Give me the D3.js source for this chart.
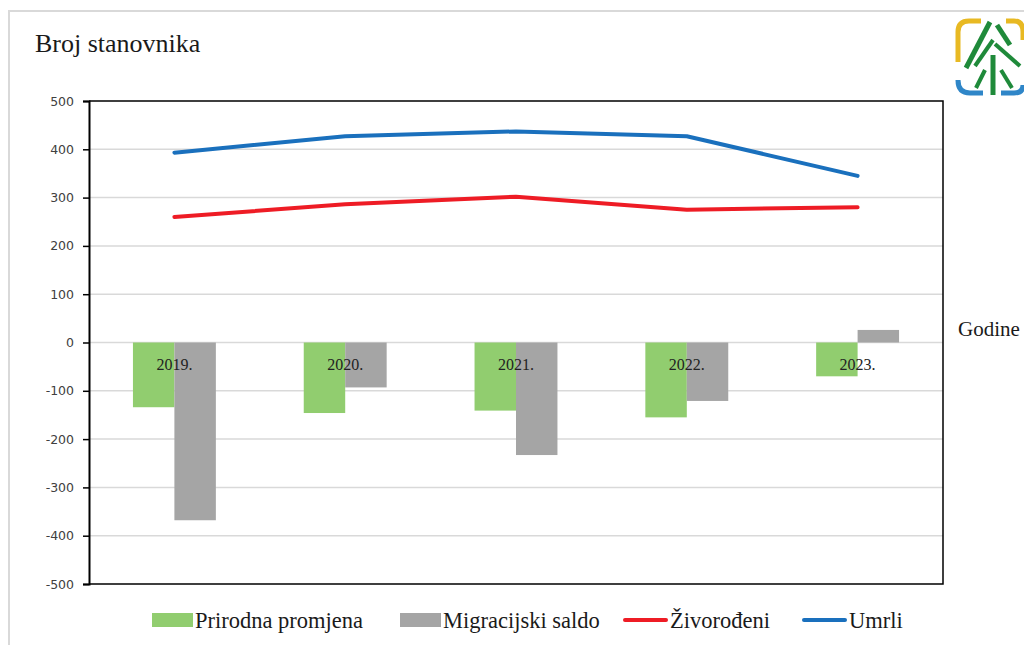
<!DOCTYPE html>
<html>
<head>
<meta charset="utf-8">
<script src="https://cdn.jsdelivr.net/npm/d3@7"></script>
<style>
  html, body { margin: 0; padding: 0; background: #fff; }
  svg { display: block; }
  .serif { font-family: 'Liberation Serif', 'DejaVu Serif', serif; }
  .sans { font-family: 'DejaVu Sans', sans-serif; }
</style>
</head>
<body>
<svg id="chart" width="1024" height="645"></svg>
<script>
// ---- data ----
const years = ["2019.", "2020.", "2021.", "2022.", "2023."];
const prirodnaPromjena = [-134, -146, -141, -155, -70];
const migracijskiSaldo = [-368, -93, -233, -121, 26];
const zivorodeni = [260, 286, 302, 275, 280];
const umrli = [393, 427, 437, 427, 345];
const yTicks = [-500, -400, -300, -200, -100, 0, 100, 200, 300, 400, 500];
const seriesNames = ["Prirodna promjena", "Migracijski saldo", "Živorođeni", "Umrli"];

// ---- layout ----
const svg = d3.select("#chart");
const L = 89, R = 943, T = 101, B = 584;
const colors = { green: "#91cd6f", gray: "#a5a5a5", red: "#ee1c25", blue: "#1a70bd" };

// outer frame
svg.append("rect").attr("x", 9).attr("y", 11).attr("width", 1100).attr("height", 700)
  .attr("fill", "none").attr("stroke", "#d9d9d9").attr("stroke-width", 2);

// title
svg.append("text").attr("class", "serif").attr("x", 35).attr("y", 52)
  .style("font-size", "26px").attr("fill", "#1a1a1a")
  .text("Broj stanovnika");

const y = d3.scaleLinear().domain([-500, 500]).range([B, T]);
const x = d3.scaleBand().domain(years).range([L, R]).padding(0);
const xs = d3.scaleBand().domain(["p", "m"]).range([0, x.bandwidth()]).paddingInner(0).paddingOuter(1.06);

// gridlines
svg.append("g").selectAll("line").data(yTicks.filter(t => t !== 500 && t !== -500)).join("line")
  .attr("x1", L).attr("x2", R).attr("y1", d => y(d)).attr("y2", d => y(d))
  .attr("stroke", "#d9d9d9").attr("stroke-width", 1.5);

// bars
const g = svg.append("g");
g.selectAll("rect.p").data(years).join("rect").attr("class", "p")
  .attr("x", d => x(d) + xs("p")).attr("width", xs.bandwidth())
  .attr("y", (d, i) => Math.min(y(0), y(prirodnaPromjena[i])))
  .attr("height", (d, i) => Math.abs(y(prirodnaPromjena[i]) - y(0)))
  .attr("fill", colors.green);
g.selectAll("rect.m").data(years).join("rect").attr("class", "m")
  .attr("x", d => x(d) + xs("m")).attr("width", xs.bandwidth())
  .attr("y", (d, i) => Math.min(y(0), y(migracijskiSaldo[i])))
  .attr("height", (d, i) => Math.abs(y(migracijskiSaldo[i]) - y(0)))
  .attr("fill", colors.gray);

// lines
const cx = d => x(d) + x.bandwidth() / 2;
const line = d3.line().x(d => cx(d[0])).y(d => y(d[1]));
svg.append("path").datum(years.map((d, i) => [d, zivorodeni[i]]))
  .attr("d", line).attr("fill", "none").attr("stroke", colors.red).attr("stroke-width", 4)
  .attr("stroke-linejoin", "round").attr("stroke-linecap", "round");
svg.append("path").datum(years.map((d, i) => [d, umrli[i]]))
  .attr("d", line).attr("fill", "none").attr("stroke", colors.blue).attr("stroke-width", 4)
  .attr("stroke-linejoin", "round").attr("stroke-linecap", "round");

// plot frame (top, right, bottom)
svg.append("path").attr("d", `M${L},${T}H${R}V${B}H${L}`)
  .attr("fill", "none").attr("stroke", "#000").attr("stroke-width", 1.5);

// y axis
const yAxis = d3.axisLeft(y).tickValues(yTicks).tickSize(6).tickPadding(9).tickFormat(d => String(d));
const ya = svg.append("g").attr("transform", `translate(${L},0)`).call(yAxis);
ya.attr("font-family", null).attr("font-size", null);
ya.select(".domain").attr("stroke", "#000").attr("stroke-width", 2);
ya.selectAll(".tick line").attr("stroke", "#000").attr("stroke-width", 1.5);
ya.selectAll(".tick text").attr("class", "sans").style("font-size", "12.5px")
  .attr("fill", "#404040");

// category labels (at the zero line)
svg.append("g").selectAll("text").data(years).join("text").attr("class", "serif")
  .attr("x", d => cx(d)).attr("y", y(0) + 27).attr("text-anchor", "middle")
  .style("font-size", "16px").attr("fill", "#222")
  .text(d => d);

// axis title
svg.append("text").attr("class", "serif").attr("x", 958).attr("y", 336)
  .style("font-size", "21px").attr("fill", "#1a1a1a")
  .text("Godine");

// legend
const legendX = [152, 400, 625, 804];
const lg = svg.append("g");
seriesNames.forEach((name, i) => {
  const lx = legendX[i];
  if (i < 2) {
    lg.append("rect").attr("x", lx).attr("y", 613).attr("width", 41).attr("height", 14)
      .attr("fill", i === 0 ? colors.green : colors.gray);
  } else {
    lg.append("line").attr("x1", lx).attr("x2", lx + 41).attr("y1", 620).attr("y2", 620)
      .attr("stroke", i === 2 ? colors.red : colors.blue).attr("stroke-width", 4).attr("stroke-linecap", "round");
  }
  lg.append("text").attr("class", "serif").attr("x", lx + (i < 2 ? 43 : 45)).attr("y", 628)
    .style("font-size", "22.5px").attr("fill", "#1a1a1a")
    .text(name);
});

// logo (approximation)
const logo = svg.append("g");
logo.append("path").attr("d", "M958,62 V32 Q958,21 969,21 H981").attr("fill", "none")
  .attr("stroke", "#e8b923").attr("stroke-width", 5);
logo.append("path").attr("d", "M1006,21 H1014 Q1023,21 1023,32 V40").attr("fill", "none")
  .attr("stroke", "#e8b923").attr("stroke-width", 5);
logo.append("path").attr("d", "M958,80 Q958,93 970,93 H983").attr("fill", "none")
  .attr("stroke", "#2f86c8").attr("stroke-width", 5);
logo.append("path").attr("d", "M1001,93 H1014 Q1023,93 1023,85").attr("fill", "none")
  .attr("stroke", "#2f86c8").attr("stroke-width", 5);
const gr = "#1f8a3a";
logo.append("path").attr("d", "M990,22 L966,68").attr("stroke", gr).attr("stroke-width", 5).attr("fill", "none");
logo.append("path").attr("d", "M997,25 L1010,45").attr("stroke", gr).attr("stroke-width", 5).attr("fill", "none");
logo.append("path").attr("d", "M993,40 L975,66").attr("stroke", gr).attr("stroke-width", 4).attr("fill", "none");
logo.append("path").attr("d", "M995,44 L1020,66").attr("stroke", gr).attr("stroke-width", 4).attr("fill", "none");
logo.append("path").attr("d", "M985,70 L976,88").attr("stroke", gr).attr("stroke-width", 4).attr("fill", "none");
logo.append("path").attr("d", "M1001,70 L1012,88").attr("stroke", gr).attr("stroke-width", 4).attr("fill", "none");
logo.append("path").attr("d", "M993,55 V95").attr("stroke", gr).attr("stroke-width", 5).attr("fill", "none");
</script>
</body>
</html>
